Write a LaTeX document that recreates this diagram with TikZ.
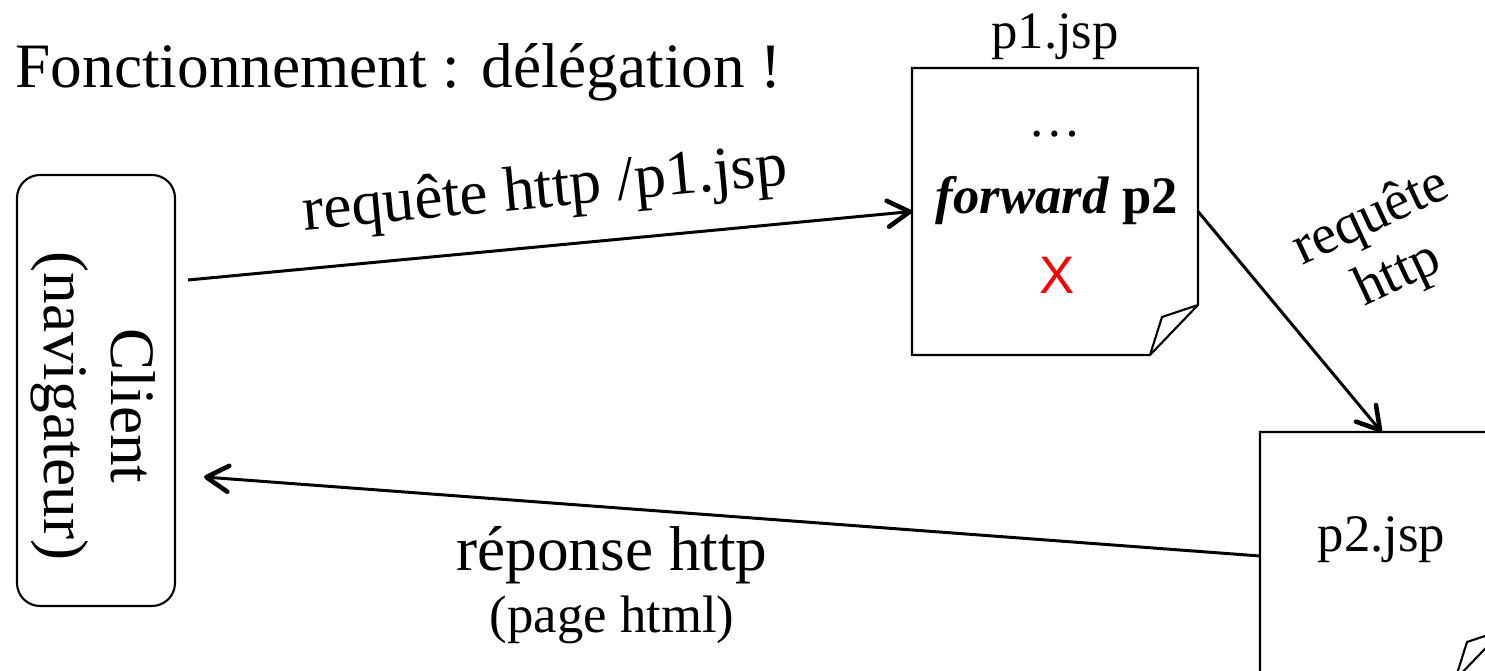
\documentclass[tikz,border=0pt]{standalone}
\usepackage{fontspec}
\setmainfont{Liberation Serif}
\newfontfamily\crossfont{Liberation Sans}
\usetikzlibrary{arrows.meta,positioning}

\tikzset{
  clientbox/.style={draw, rounded corners=0.23cm, line width=0.6pt, minimum width=1.58cm, minimum height=4.31cm},
  pagebox/.style={inner sep=0pt, outer sep=0pt},
  flow/.style={line width=0.85pt, -{Straight Barb[length=2.2mm, width=2.6mm, line width=1.3pt, round]}},
}

% page outline with a folded corner
\newcommand{\foldpage}[1]{%
  \draw[line width=0.6pt] (#1.north west) -- (#1.north east) -- ([yshift=0.5cm]#1.south east)
    -- ([xshift=-0.48cm]#1.south east) -- (#1.south west) -- cycle;%
  \draw[line width=0.6pt] ([yshift=0.5cm]#1.south east) -- ([shift={(-0.36cm,0.38cm)}]#1.south east)
    -- ([xshift=-0.48cm]#1.south east);%
}

\begin{document}
\begin{tikzpicture}%
\useasboundingbox (0,0) rectangle (14.85,-6.71);%
\clip (0,0) rectangle (14.85,-6.71);%
\node[anchor=base west, inner sep=0pt] (title) at (0.15,-0.88) {\fontsize{18pt}{19pt}\selectfont Fonctionnement : délégation !};%
%
\node[clientbox] (client) at (0.96,-3.905) {};%
\node[rotate=-90, align=center, font={\fontsize{18pt}{19pt}\selectfont}] (clienttxt) at (0.935,-4.06) {Client\\(navigateur)};%
%
\node[pagebox, minimum width=2.86cm, minimum height=2.87cm] (p1) at (10.55,-2.115) {};%
\foldpage{p1}%
\node (p1name) at ([yshift=0.31cm]p1.north) {\fontsize{15pt}{15pt}\selectfont p1.jsp};%
\node (dots) at ([yshift=0.77cm]p1.center) {\fontsize{15pt}{15pt}\selectfont …};%
\node (fwd) at ([shift={(0.02,0.11)}]p1.center) {\fontsize{15pt}{15pt}\selectfont \textbf{\textit{forward}} \textbf{p2}};%
\node[text=red] (cross) at ([shift={(0.02,-0.64)}]p1.center) {\crossfont\fontsize{15pt}{15pt}\selectfont X};%
%
\node[pagebox, minimum width=2.43cm, minimum height=2.48cm] (p2) at (13.815,-5.56) {};%
\foldpage{p2}%
\node (p2name) at ([yshift=0.16cm]p2.center) {\fontsize{15pt}{15pt}\selectfont p2.jsp};%
%
\draw[flow] ([shift={(0.12,1.105)}]client.east) -- node[sloped, above=0.12cm] (reqlbl) {\fontsize{18pt}{18pt}\selectfont requête http /p1.jsp} (p1.west);%
\draw[flow] (p1.east) -- (p2.north);%
\node[rotate=25, align=center, font={\fontsize{16pt}{18pt}\selectfont}] (fwdlbl) at (13.85,-2.47) {requête\\http};%
\draw[flow] (p2.west) -- ([shift={(0.28,-0.865)}]client.east);%
\node (resp) at (6.12,-5.55) {\fontsize{18pt}{18pt}\selectfont réponse http};%
\node (page) at (6.12,-6.20) {\fontsize{15pt}{15pt}\selectfont (page html)};%
\end{tikzpicture}
\end{document}
